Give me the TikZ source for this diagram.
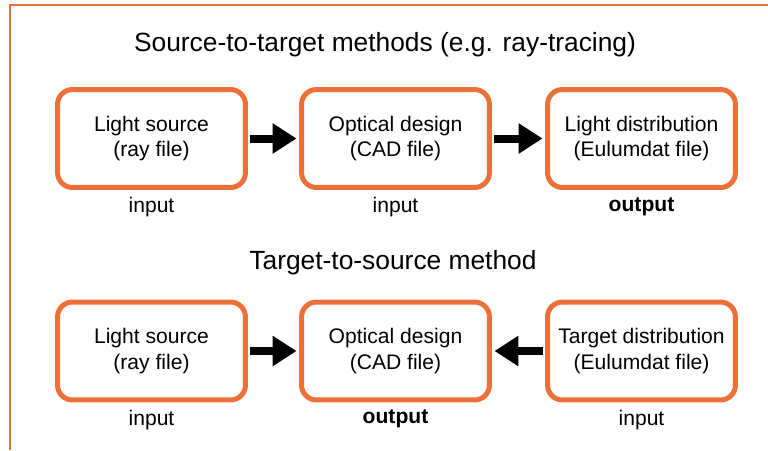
\documentclass[tikz,border=0pt]{standalone}
\usepackage{fontspec}
\setmainfont{Liberation Sans}
\usetikzlibrary{positioning, arrows.meta}
\definecolor{FrameOrange}{RGB}{236, 112, 56}

\begin{document}
\begin{tikzpicture}[x=0.02cm, y=-0.02cm,
    stage/.style={draw=FrameOrange, line width=0.1cm, rounded corners=0.3cm,
      minimum width=3.76cm, minimum height=1.96cm, inner sep=0pt, align=center,
      font=\fontsize{12}{14.7}\selectfont},
    tag/.style={font=\fontsize{12}{14}\selectfont, inner sep=0pt},
    heading/.style={font=\fontsize{15}{18}\selectfont, inner sep=0pt},
    flow/.style={line width=0.16cm, shorten <=0.05cm, shorten >=0.05cm,
      -{Triangle[length=0.48cm, width=0.58cm]}}]
    \useasboundingbox (0,0) rectangle (768,450);

    % Frame edges
    \draw[FrameOrange, line width=0.6pt] (10,450) -- (10,5) -- (768,5);

    % Source-to-target
    \node[heading] (titleA) at (385,45) {Source-to-target methods (e.g. ray-tracing)};
    \node[stage] (srcA) at (151.5,138.5) {Light source\\(ray file)};
    \node[stage] (optA) at (395.5,138.5) {Optical design\\(CAD file)};
    \node[stage] (outA) at (641.5,138.5) {Light distribution\\(Eulumdat file)};
    \node[tag, below=4pt of srcA] (srcAtag) {input};
    \node[tag, below=4pt of optA] (optAtag) {input};
    \node[tag, below=4pt of outA] (outAtag) {\textbf{output}};
    \draw[flow] (srcA) -- (optA);
    \draw[flow] (optA) -- (outA);

    % Target-to-source
    \node[heading] (titleB) at (393,263) {Target-to-source method};
    \node[stage] (srcB) at (151.5,351) {Light source\\(ray file)};
    \node[stage] (optB) at (395.5,351) {Optical design\\(CAD file)};
    \node[stage] (tgtB) at (641.5,351) {Target distribution\\(Eulumdat file)};
    \node[tag, below=4pt of srcB] (srcBtag) {input};
    \node[tag, below=4pt of optB] (optBtag) {\textbf{output}};
    \node[tag, below=4pt of tgtB] (tgtBtag) {input};
    \draw[flow] (srcB) -- (optB);
    \draw[flow] (tgtB) -- (optB);
\end{tikzpicture}
\end{document}
